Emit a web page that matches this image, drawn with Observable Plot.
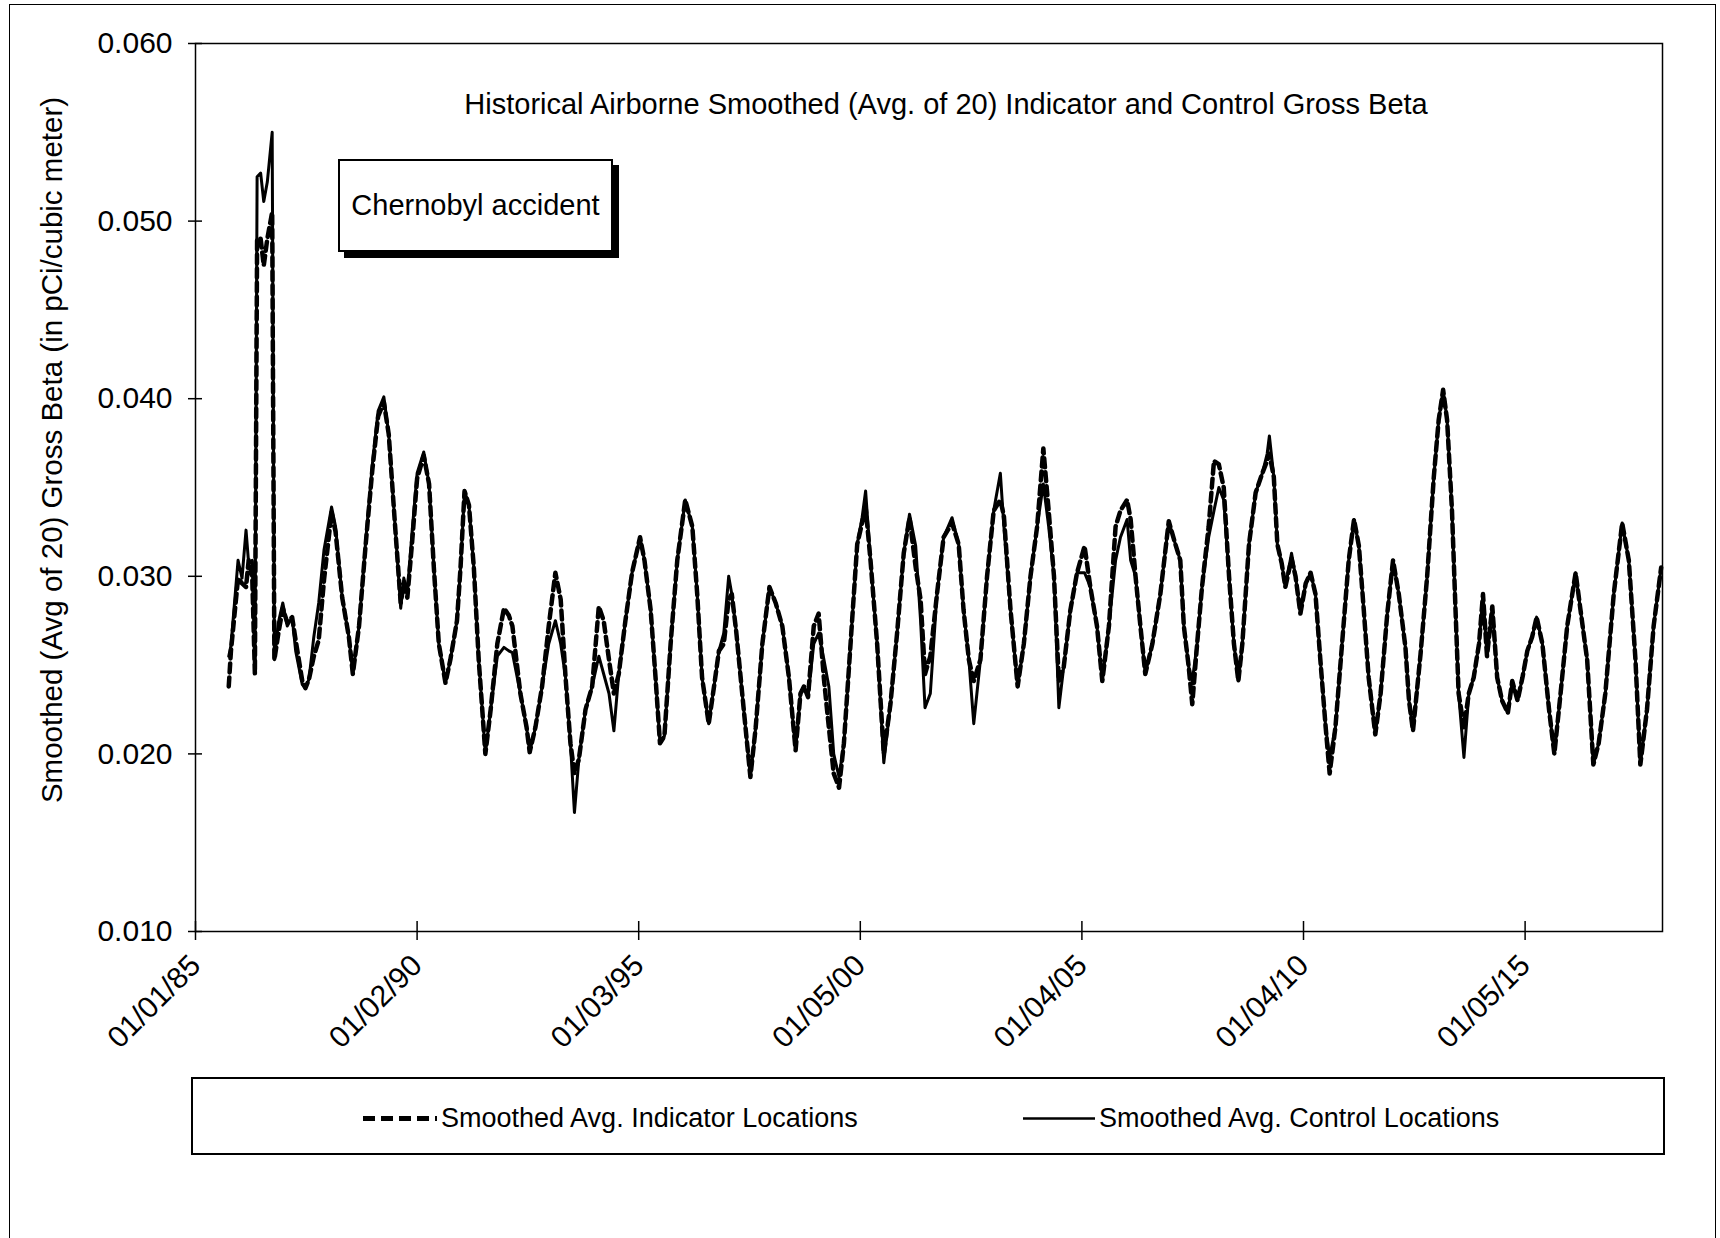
<!DOCTYPE html>
<html>
<head>
<meta charset="utf-8">
<script src="https://cdn.jsdelivr.net/npm/d3@7"></script>
<script src="https://cdn.jsdelivr.net/npm/@observablehq/plot@0.6"></script>
<style>
  body { margin: 0; background: #fff; overflow: hidden; }
  #wrap { position: relative; width: 1720px; height: 1238px; font-family: "Liberation Sans", Arial, sans-serif; color: #000; }
  #frame { position: absolute; left: 9px; top: 4px; width: 1707px; height: 1300px; border: 1.5px solid #000; box-sizing: border-box; }
  #chart { position: absolute; left: 0; top: 0; }
  #title { position: absolute; left: 946px; top: 104px; transform: translate(-50%, -50%); white-space: nowrap; font-size: 29px; }
  #note { position: absolute; left: 338px; top: 159px; width: 275px; height: 93px; box-sizing: border-box; border: 2px solid #000; box-shadow: 6px 6px 0 #000; background: #fff; display: flex; align-items: center; justify-content: center; font-size: 29px; white-space: nowrap; }
  #ylabel { position: absolute; left: 52px; top: 450px; transform: translate(-50%, -50%) rotate(-90deg); white-space: nowrap; font-size: 29.5px; }
  #legend { position: absolute; left: 191px; top: 1077px; width: 1474px; height: 78px; box-sizing: border-box; border: 2px solid #000; font-size: 27px; }
  .item { position: absolute; top: 39px; transform: translateY(-50%); display: flex; align-items: center; white-space: nowrap; }
  .item svg { display: block; margin-right: 3px; }
</style>
</head>
<body>
<div id="wrap">
  <div id="frame"></div>
  <div id="chart"></div>
  <div id="title">Historical Airborne Smoothed (Avg. of 20) Indicator and Control Gross Beta</div>
  <div id="note">Chernobyl accident</div>
  <div id="ylabel">Smoothed (Avg of 20) Gross Beta (in pCi/cubic meter)</div>
  <div id="legend">
    <div class="item" style="left:169px"><svg width="76" height="10"><line x1="1" y1="5" x2="75" y2="5" stroke="#000" stroke-width="5" stroke-dasharray="12,6"/></svg><span>Smoothed Avg. Indicator Locations</span></div>
    <div class="item" style="left:829px"><svg width="74" height="10"><line x1="1" y1="5" x2="73" y2="5" stroke="#000" stroke-width="2.5"/></svg><span>Smoothed Avg. Control Locations</span></div>
  </div>
</div>
<script>
// x positions are decimal years on the category-like date axis
const years = [
  1985.75,1985.80,1985.96,1986.05,1986.14,1986.20,1986.28,1986.34,1986.39,1986.47,1986.54,1986.62,1986.73,1986.78,1986.87,1986.97,
  1987.07,1987.18,1987.26,1987.41,1987.48,1987.56,1987.67,1987.78,1987.90,1988.07,1988.16,1988.31,1988.46,1988.55,1988.69,1988.84,
  1988.99,1989.12,1989.25,1989.36,1989.51,1989.63,1989.70,1989.78,1989.89,1990.00,1990.15,1990.27,1990.38,1990.49,
  1990.64,1990.75,1990.90,1990.98,1991.07,1991.17,1991.28,1991.39,1991.47,1991.54,1991.66,1991.81,1991.96,1992.07,1992.15,
  1992.33,1992.47,1992.54,1992.67,1992.82,1992.97,1993.12,1993.24,1993.35,1993.46,1993.55,1993.65,1993.80,1993.95,1994.10,
  1994.21,1994.33,1994.44,1994.55,1994.70,1994.85,1995.03,1995.13,1995.27,1995.38,1995.48,1995.58,1995.72,1995.87,
  1996.05,1996.21,1996.32,1996.43,1996.58,1996.70,1996.81,1996.92,1997.03,1997.10,1997.20,1997.37,1997.52,1997.64,1997.79,
  1997.95,1998.09,1998.24,1998.39,1998.54,1998.65,1998.73,1998.82,1998.95,1999.06,1999.18,1999.29,1999.40,1999.52,1999.63,
  1999.78,1999.93,2000.04,2000.12,2000.23,2000.38,2000.53,2000.68,2000.83,2000.98,2001.11,2001.25,2001.36,2001.46,
  2001.58,2001.73,2001.88,2002.07,2002.22,2002.33,2002.45,2002.56,2002.71,2002.86,2003.01,2003.16,2003.24,2003.39,2003.55,
  2003.69,2003.84,2003.99,2004.13,2004.25,2004.37,2004.48,2004.59,2004.74,2004.89,2005.06,2005.19,2005.34,2005.46,2005.61,
  2005.76,2005.87,2006.02,2006.10,2006.21,2006.32,2006.43,2006.59,2006.77,2006.96,2007.11,
  2007.22,2007.30,2007.41,2007.49,2007.60,2007.71,2007.86,2007.98,2008.09,2008.20,2008.32,2008.43,2008.53,2008.62,2008.77,
  2008.92,2009.07,2009.18,2009.23,2009.33,2009.41,2009.51,2009.59,2009.73,2009.82,2009.93,2010.05,2010.16,2010.27,2010.38,
  2010.50,2010.59,2010.72,2010.87,2011.02,2011.14,2011.25,2011.36,2011.47,2011.62,2011.74,2011.89,2012.02,2012.15,2012.30,
  2012.38,2012.47,2012.64,
  2012.79,2012.94,2013.05,2013.15,2013.24,2013.35,2013.43,2013.50,2013.62,2013.73,2013.84,2013.96,2014.05,2014.14,2014.26,
  2014.37,2014.48,2014.61,2014.71,2014.83,2014.94,2015.05,2015.16,2015.26,2015.39,2015.54,2015.66,2015.80,2015.95,2016.14,
  2016.25,2016.40,2016.54,2016.66,2016.81,2017.00,2017.19,2017.34,2017.49,2017.60,2017.75,2017.90,2018.07
];
const control = [
  0.0255,0.0261,0.0309,0.0299,0.0326,0.0307,0.0309,0.0248,0.0525,0.0527,0.0511,0.0522,0.0550,0.0253,0.0274,0.0285,
  0.0272,0.0277,0.0258,0.0239,0.0237,0.0242,0.0266,0.0285,0.0315,0.0339,0.0328,0.0288,0.0266,0.0245,0.0272,0.0320,
  0.0363,0.0393,0.0401,0.0380,0.0326,0.0282,0.0299,0.0291,0.0326,0.0358,0.0370,0.0352,0.0304,0.0262,
  0.0240,0.0253,0.0275,0.0305,0.0348,0.0340,0.0305,0.0253,0.0225,0.0200,0.0225,0.0255,0.0260,0.0258,0.0257,
  0.0234,0.0215,0.0201,0.0215,0.0238,0.0262,0.0275,0.0262,0.0243,0.0206,0.0167,0.0197,0.0225,0.0238,0.0255,
  0.0245,0.0234,0.0213,0.0245,0.0275,0.0302,0.0322,0.0309,0.0281,0.0243,0.0206,0.0210,0.0262,0.0309,
  0.0343,0.0328,0.0290,0.0243,0.0217,0.0238,0.0258,0.0268,0.0300,0.0290,0.0269,0.0225,0.0187,0.0215,0.0262,
  0.0294,0.0285,0.0272,0.0243,0.0202,0.0234,0.0238,0.0232,0.0262,0.0268,0.0253,0.0238,0.0200,0.0187,0.0206,
  0.0262,0.0318,0.0333,0.0348,0.0309,0.0262,0.0195,0.0228,0.0268,0.0313,0.0335,0.0317,0.0275,0.0226,
  0.0234,0.0290,0.0322,0.0333,0.0318,0.0281,0.0253,0.0217,0.0253,0.0300,0.0337,0.0358,0.0328,0.0281,0.0238,
  0.0262,0.0300,0.0328,0.0352,0.0328,0.0300,0.0226,0.0249,0.0281,0.0302,0.0302,0.0294,0.0272,0.0241,0.0272,
  0.0309,0.0322,0.0332,0.0309,0.0300,0.0272,0.0245,0.0262,0.0290,0.0331,0.0318,
  0.0309,0.0272,0.0249,0.0241,0.0262,0.0294,0.0322,0.0337,0.0350,0.0343,0.0300,0.0262,0.0241,0.0262,0.0318,
  0.0347,0.0358,0.0369,0.0379,0.0356,0.0318,0.0307,0.0294,0.0313,0.0300,0.0279,0.0296,0.0302,0.0290,0.0253,
  0.0215,0.0198,0.0215,0.0262,0.0309,0.0332,0.0317,0.0281,0.0243,0.0211,0.0234,0.0279,0.0309,0.0290,0.0260,
  0.0230,0.0213,0.0256,
  0.0300,0.0356,0.0388,0.0405,0.0388,0.0337,0.0281,0.0234,0.0198,0.0234,0.0243,0.0262,0.0290,0.0255,0.0283,
  0.0243,0.0230,0.0223,0.0241,0.0230,0.0243,0.0258,0.0266,0.0277,0.0262,0.0225,0.0200,0.0234,0.0272,0.0302,
  0.0281,0.0253,0.0194,0.0206,0.0234,0.0290,0.0330,0.0309,0.0253,0.0194,0.0225,0.0272,0.0305
];
const indicator = [
  0.0238,0.0258,0.0299,0.0296,0.0294,0.0309,0.0300,0.0245,0.0490,0.0490,0.0475,0.0490,0.0505,0.0253,0.0268,0.0282,
  0.0274,0.0277,0.0264,0.0241,0.0237,0.0242,0.0255,0.0264,0.0298,0.0336,0.0325,0.0288,0.0266,0.0245,0.0272,0.0318,
  0.0360,0.0390,0.0398,0.0380,0.0326,0.0285,0.0296,0.0288,0.0320,0.0355,0.0368,0.0352,0.0304,0.0262,
  0.0240,0.0253,0.0275,0.0305,0.0348,0.0340,0.0305,0.0253,0.0225,0.0200,0.0225,0.0262,0.0282,0.0278,0.0272,
  0.0234,0.0215,0.0201,0.0215,0.0238,0.0272,0.0302,0.0287,0.0243,0.0206,0.0189,0.0197,0.0225,0.0238,0.0283,
  0.0275,0.0253,0.0234,0.0245,0.0275,0.0302,0.0322,0.0309,0.0281,0.0243,0.0206,0.0210,0.0262,0.0309,
  0.0343,0.0328,0.0290,0.0243,0.0217,0.0238,0.0258,0.0262,0.0287,0.0290,0.0269,0.0225,0.0187,0.0215,0.0262,
  0.0294,0.0285,0.0272,0.0243,0.0202,0.0234,0.0238,0.0232,0.0272,0.0279,0.0242,0.0215,0.0189,0.0181,0.0206,
  0.0262,0.0318,0.0330,0.0339,0.0309,0.0262,0.0200,0.0228,0.0268,0.0313,0.0333,0.0305,0.0287,0.0245,
  0.0255,0.0290,0.0322,0.0330,0.0318,0.0281,0.0253,0.0241,0.0253,0.0300,0.0337,0.0343,0.0334,0.0281,0.0238,
  0.0262,0.0300,0.0328,0.0372,0.0337,0.0300,0.0241,0.0249,0.0281,0.0302,0.0317,0.0294,0.0272,0.0241,0.0272,
  0.0328,0.0337,0.0343,0.0332,0.0300,0.0272,0.0245,0.0262,0.0290,0.0331,0.0318,
  0.0309,0.0272,0.0249,0.0228,0.0262,0.0294,0.0328,0.0365,0.0363,0.0350,0.0300,0.0262,0.0241,0.0262,0.0318,
  0.0347,0.0358,0.0365,0.0369,0.0356,0.0318,0.0307,0.0294,0.0310,0.0300,0.0279,0.0296,0.0302,0.0290,0.0253,
  0.0215,0.0189,0.0215,0.0262,0.0309,0.0332,0.0317,0.0281,0.0243,0.0211,0.0234,0.0279,0.0309,0.0290,0.0260,
  0.0230,0.0213,0.0256,
  0.0300,0.0356,0.0388,0.0405,0.0388,0.0337,0.0281,0.0234,0.0215,0.0234,0.0243,0.0262,0.0290,0.0255,0.0283,
  0.0243,0.0230,0.0223,0.0241,0.0230,0.0243,0.0258,0.0266,0.0277,0.0262,0.0225,0.0200,0.0234,0.0272,0.0302,
  0.0281,0.0253,0.0194,0.0206,0.0234,0.0290,0.0330,0.0309,0.0253,0.0194,0.0225,0.0272,0.0305
];
const xTickYears = [1985, 1990, 1995, 2000, 2005, 2010, 2015];
const xTickLabels = ["01/01/85", "01/02/90", "01/03/95", "01/05/00", "01/04/05", "01/04/10", "01/05/15"];
const yTicks = [0.010, 0.020, 0.030, 0.040, 0.050, 0.060];

const rows = years.map((year, i) => ({year, control: control[i], indicator: indicator[i]}));

const chart = Plot.plot({
  width: 1720,
  height: 1040,
  marginLeft: 195,
  marginRight: 58,
  marginTop: 43,
  marginBottom: 109,
  style: {fontFamily: "Liberation Sans, Arial, sans-serif", fontSize: "30px", background: "transparent", color: "#000", overflow: "visible"},
  x: {domain: [1985, 2018.1]},
  y: {domain: [0.010, 0.060]},
  marks: [
    Plot.frame({stroke: "#000", strokeWidth: 1.5}),
    Plot.axisY(yTicks, {tickSize: 14, dx: 7, tickPadding: 16, tickFormat: d3.format(".3f"), label: null, fontSize: 30, strokeWidth: 1.5}),
    Plot.axisX(xTickYears, {tickSize: 19, dy: -10, tickRotate: -45, tickPadding: 20, tickFormat: d => xTickLabels[xTickYears.indexOf(d)], label: null, fontSize: 30, strokeWidth: 1.5}),
    Plot.line(rows, {x: "year", y: "indicator", stroke: "#000", strokeWidth: 4.5, strokeDasharray: "9,5"}),
    Plot.line(rows, {x: "year", y: "control", stroke: "#000", strokeWidth: 3})
  ]
});
document.getElementById("chart").appendChild(chart);
</script>
</body>
</html>
